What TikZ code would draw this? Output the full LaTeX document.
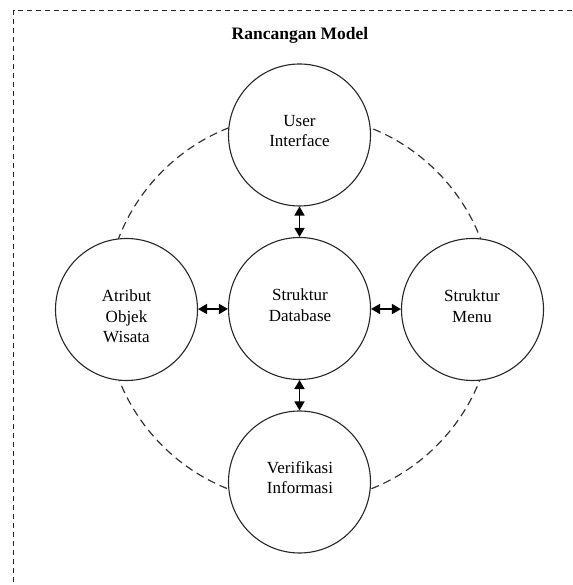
\documentclass[tikz,border=0pt]{standalone}
\usepackage{fontspec}
\setmainfont{Liberation Serif}
\usetikzlibrary{arrows.meta}
\newcommand{\mlines}[1]{\begin{tabular}[t]{@{}c@{}}#1\end{tabular}}
\begin{document}
\begin{tikzpicture}[x=1pt,y=1pt,
  bub/.style={circle, draw=black!85, line width=1.1pt, fill=white, minimum size=142pt, inner sep=0pt},
  lbl/.style={anchor=base, inner sep=0pt, font=\fontsize{17}{20.5}\selectfont},
  ring/.style={draw=black!80, line width=1.2pt, dash pattern=on 8pt off 5pt},
  frame/.style={draw=black!85, line width=1pt, dash pattern=on 5pt off 4pt},
  dbl/.style={line width=1.6pt, {Triangle[length=9pt,width=10pt]}-{Triangle[length=9pt,width=10pt]}}
]
\useasboundingbox (0,0) rectangle (572,585);
% frame
\coordinate (fr1) at (572,574);
\coordinate (fr2) at (13.5,574);
\coordinate (fr3) at (13.5,0);
\draw[frame] (fr1) -- (fr2) -- (fr3);
% title
\node[anchor=base, inner sep=0pt, font=\fontsize{17.5}{21}\selectfont\bfseries] (title) at (300,545.5) {Rancangan Model};
% ring
\coordinate (rc) at (299.5,276.5);
\draw[ring] (rc) circle[radius=194pt];
% circles
\node[bub] (ui) at (299.5,450) {};
\node[bub] (db) at (299.5,276.5) {};
\node[bub] (am) at (126.5,275.5) {};
\node[bub] (sm) at (472.5,275.5) {};
\node[bub] (vi) at (299.5,103) {};
% labels
\node[lbl] (tui) at (299.5,458.5) {\mlines{User\\Interface}};
\node[lbl] (tdb) at (300,284) {\mlines{Struktur\\Database}};
\node[lbl] (tam) at (126.5,283.3) {\mlines{Atribut\\Objek\\Wisata}};
\node[lbl] (tsm) at (472,283.3) {\mlines{Struktur\\Menu}};
\node[lbl] (tvi) at (300,111.7) {\mlines{Verifikasi\\Informasi}};
% arrows
\draw[dbl] (ui) -- (db);
\draw[dbl] (db) -- (vi);
\draw[dbl] (am) -- (db);
\draw[dbl] (db) -- (sm);
\end{tikzpicture}
\end{document}
